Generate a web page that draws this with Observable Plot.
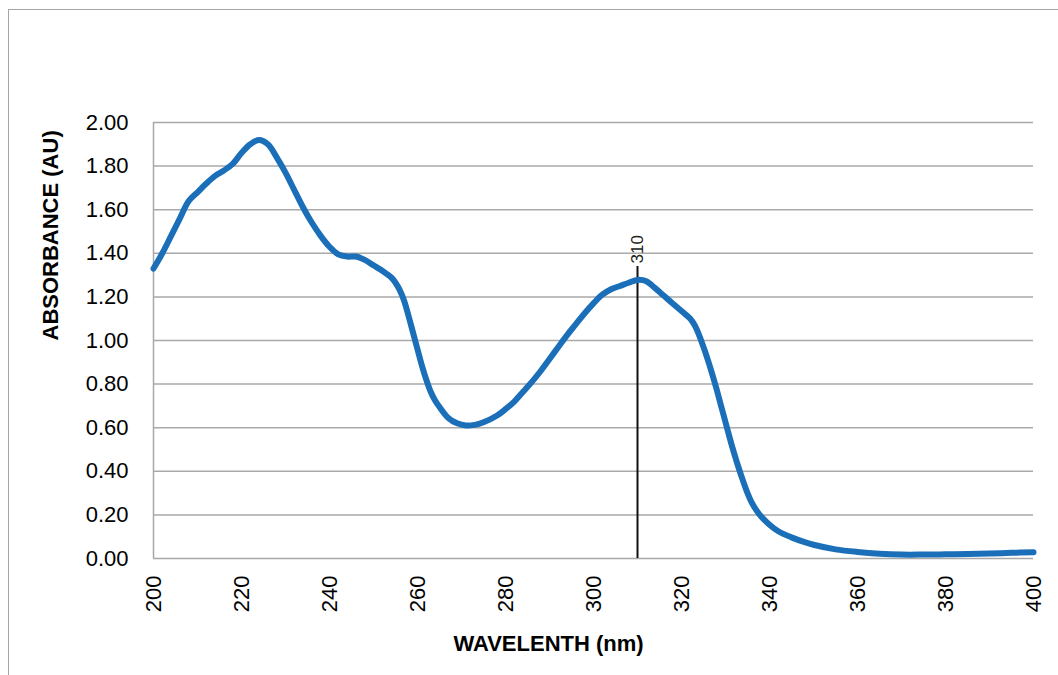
<!DOCTYPE html>
<html><head><meta charset="utf-8">
<script src="https://cdn.jsdelivr.net/npm/d3@7"></script>
<script src="https://cdn.jsdelivr.net/npm/@observablehq/plot@0.6"></script>
<style>
body{margin:0;background:#fff;}
#wrap{position:relative;width:1058px;height:675px;overflow:hidden;}
#frame{position:absolute;left:8px;top:9px;right:-10px;bottom:-10px;border-left:1.5px solid #a6a6a6;border-top:1.5px solid #a6a6a6;pointer-events:none;}
</style></head><body><div id="wrap"><div id="chart"></div><div id="frame"></div></div>
<script>
const wavelength = [200,202,204,206,208,210,212,214,216,218,220,222,224,226,228,230,232,234,236,238,240,242,244,246,248,250,252,254,255,256,257,258,259,260,261,262,263,264,265,267,269,271,273,275,278,280,282,284,286,288,290,292,294,296,298,300,302,304,306,308,310,312,314,316,318,320,322,323,324,325,326,327,328,329,330,331,332,333,334,335,336,337,338,340,342,345,348,350,355,360,365,370,375,380,385,390,395,400];
const absorbance = [1.33,1.40,1.48,1.56,1.64,1.68,1.72,1.755,1.78,1.81,1.86,1.90,1.92,1.90,1.84,1.77,1.69,1.61,1.54,1.48,1.43,1.395,1.385,1.385,1.37,1.345,1.32,1.29,1.265,1.23,1.18,1.11,1.035,0.96,0.885,0.82,0.765,0.725,0.695,0.645,0.62,0.61,0.613,0.625,0.655,0.685,0.72,0.765,0.81,0.86,0.915,0.97,1.025,1.075,1.125,1.17,1.21,1.235,1.25,1.265,1.278,1.272,1.24,1.205,1.17,1.135,1.10,1.07,1.025,0.97,0.91,0.845,0.775,0.70,0.625,0.55,0.48,0.415,0.355,0.30,0.255,0.222,0.195,0.155,0.125,0.097,0.075,0.063,0.042,0.03,0.022,0.018,0.018,0.019,0.021,0.023,0.026,0.029];
const yTicks = [0,0.2,0.4,0.6,0.8,1.0,1.2,1.4,1.6,1.8,2.0];
const xTicks = [200,220,240,260,280,300,320,340,360,380,400];
const markerWavelength = [310];
const markerTop = 1.34;
const markerLabel = "310";
const xTitle = "WAVELENTH (nm)";
const yTitle = "ABSORBANCE (AU)";

const data = wavelength.map((w, i) => ({w, a: absorbance[i]}));
const font = "'Liberation Sans', Arial, sans-serif";

const plot = Plot.plot({
  width: 1058, height: 675,
  marginLeft: 153, marginRight: 25, marginTop: 122, marginBottom: 117,
  style: {fontFamily: font, background: "transparent", color: "#000"},
  x: {domain: [200, 400]},
  y: {domain: [0, 2]},
  marks: [
    Plot.ruleY(yTicks, {stroke: "#a9a9a9", strokeWidth: 1.5}),
    Plot.ruleX([200], {stroke: "#a9a9a9", strokeWidth: 1.5}),
    Plot.axisY(yTicks, {tickSize: 0, tickPadding: 25, tickFormat: d3.format(".2f"), fontSize: 22, label: null}),
    Plot.axisX(xTicks, {tickSize: 0, tickPadding: 17, tickRotate: -90, fontSize: 22, label: null}),
    Plot.ruleX(markerWavelength, {y1: 0, y2: markerTop, stroke: "#111", strokeWidth: 2}),
    Plot.text(markerWavelength, {x: d => d, y: () => markerTop, text: () => markerLabel, rotate: -90, textAnchor: "start", dy: -3, fontSize: 17, fill: "#222"}),
    Plot.line(data, {x: "w", y: "a", stroke: "#1a6fb8", strokeWidth: 6, curve: "catmull-rom"}),
    Plot.text([yTitle], {frameAnchor: "left", rotate: -90, dx: -103, fontSize: 22, fontWeight: "bold"}),
    Plot.text([xTitle], {frameAnchor: "bottom", dx: -45, dy: 92, fontSize: 22, fontWeight: "bold"})
  ]
});
document.getElementById("chart").appendChild(plot);
</script>
</body></html>
